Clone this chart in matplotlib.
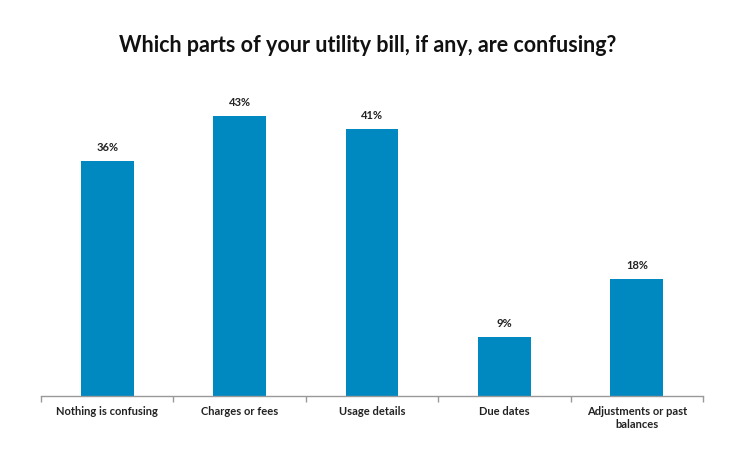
import matplotlib
matplotlib.use("Agg")
import matplotlib.pyplot as plt
from matplotlib.ticker import FixedLocator

categories = ["Nothing is confusing", "Charges or fees", "Usage details", "Due dates", "Adjustments or past\nbalances"]
values = [36, 43, 41, 9, 18]
labels = ["36%", "43%", "41%", "9%", "18%"]

plt.rcParams['font.family'] = ['Lato', 'DejaVu Sans']

fig = plt.figure(figsize=(7.36, 4.5), dpi=100)
ax = fig.add_axes([41/736, 54/450, 662/736, 330/450])
x = list(range(len(categories)))
bars = ax.bar(x, values, width=0.4, color="#0088C1")
for xi, v, lab in zip(x, values, labels):
    ax.text(xi, v + 1.2, lab, ha="center", va="bottom", fontsize=8, fontweight="bold", color="#222222")

ax.set_xlim(-0.5, len(categories) - 0.5)
ax.set_ylim(0, 50.6)
ax.set_xticks(x)
ax.set_xticklabels(categories, fontsize=8.0, fontweight="bold", color="#222222")
ax.tick_params(axis='x', which='major', length=0, pad=7)
ax.xaxis.set_minor_locator(FixedLocator([i - 0.5 for i in range(len(categories) + 1)]))
ax.tick_params(axis='x', which='minor', length=4, color="#999999", width=1)
ax.set_yticks([])
for s in ["top", "right", "left"]:
    ax.spines[s].set_visible(False)
ax.spines["bottom"].set_color("#999999")
ax.spines["bottom"].set_linewidth(1)

fig.text(0.5, 1 - 45/450, "Which parts of your utility bill, if any, are confusing?", ha="center", va="center",
         fontsize=15.5, fontweight="bold", color="#111111")

fig.savefig("out.png", dpi=100)
